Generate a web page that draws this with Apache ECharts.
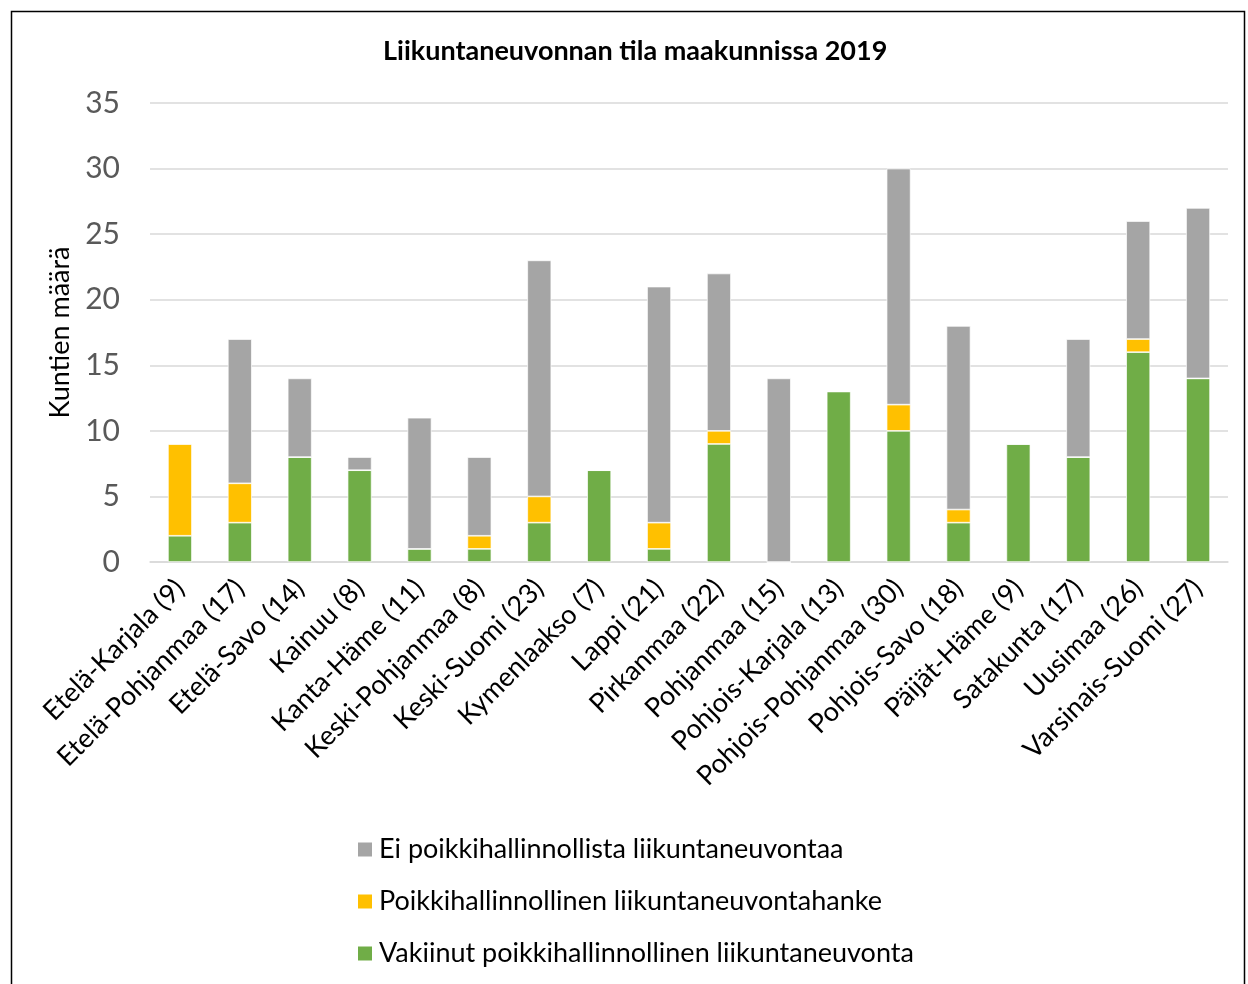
<!DOCTYPE html>
<html>
<head>
<meta charset="utf-8">
<script src="https://cdn.jsdelivr.net/npm/echarts@6/dist/echarts.min.js"></script>
<style>
  html, body { margin: 0; padding: 0; background: #fff; }
  #chart { width: 1248px; height: 984px; }
</style>
</head>
<body>
<div id="chart"></div>
<script>
const FONT = 'Lato, "Open Sans", sans-serif';
const GREY = '#a5a5a5';
const YELLOW = '#ffc000';
const GREEN = '#70ad47';

const regions = [
  'Etelä-Karjala (9)', 'Etelä-Pohjanmaa (17)', 'Etelä-Savo (14)', 'Kainuu (8)',
  'Kanta-Häme (11)', 'Keski-Pohjanmaa (8)', 'Keski-Suomi (23)', 'Kymenlaakso (7)',
  'Lappi (21)', 'Pirkanmaa (22)', 'Pohjanmaa (15)', 'Pohjois-Karjala (13)',
  'Pohjois-Pohjanmaa (30)', 'Pohjois-Savo (18)', 'Päijät-Häme (9)', 'Satakunta (17)',
  'Uusimaa (26)', 'Varsinais-Suomi (27)'
];

// vakiintunut / hanke / ei
const established = [2, 3, 8, 7, 1, 1, 3, 7, 1, 9, 0, 13, 10, 3, 9, 8, 16, 14];
const project     = [7, 3, 0, 0, 0, 1, 2, 0, 2, 1, 0, 0, 2, 1, 0, 0, 1, 0];
const none        = [0, 11, 6, 1, 10, 6, 18, 0, 18, 12, 14, 0, 18, 14, 0, 9, 9, 13];

const yTicks = [0, 5, 10, 15, 20, 25, 30, 35];

const barStyle = (color) => ({color: color, borderColor: '#ffffff', borderWidth: 0.7});

const chart = echarts.init(document.getElementById('chart'));

chart.setOption({
  animation: false,
  backgroundColor: '#fff',
  textStyle: {fontFamily: FONT},
  title: {
    text: 'Liikuntaneuvonnan tila maakunnissa 2019',
    left: 378,
    top: 33,
    textStyle: {fontFamily: FONT, fontSize: 27, fontWeight: 'bold', color: '#000'}
  },
  graphic: [{
    type: 'rect',
    shape: {x: 11.5, y: 11.5, width: 1233, height: 990},
    style: {fill: 'none', stroke: '#000', lineWidth: 1.5},
    silent: true
  }],
  legend: {
    orient: 'vertical',
    left: 356,
    top: 836,
    padding: 0,
    itemWidth: 16,
    itemHeight: 16,
    itemGap: 25,
    icon: 'rect',
    data: ['Ei poikkihallinnollista liikuntaneuvontaa', 'Poikkihallinnollinen liikuntaneuvontahanke', 'Vakiinut poikkihallinnollinen liikuntaneuvonta'],
    textStyle: {fontFamily: FONT, fontSize: 27, color: '#000', padding: [0, 0, 0, 1]}
  },
  grid: {left: 150, right: 20, top: 103, bottom: 422},
  xAxis: {
    type: 'category',
    data: regions,
    axisLine: {lineStyle: {color: '#d9d9d9', width: 1.5}},
    axisTick: {show: false},
    axisLabel: {
      rotate: 45,
      interval: 0,
      margin: 22,
      fontFamily: FONT,
      fontSize: 27,
      color: '#000'
    }
  },
  yAxis: {
    type: 'value',
    min: yTicks[0],
    max: yTicks[yTicks.length - 1],
    interval: 5,
    name: 'Kuntien määrä',
    nameLocation: 'middle',
    nameGap: 76,
    nameTextStyle: {fontFamily: FONT, fontSize: 27, color: '#000'},
    axisLine: {show: false},
    axisTick: {show: false},
    axisLabel: {fontFamily: FONT, fontSize: 30, color: '#595959', margin: 30},
    splitLine: {lineStyle: {color: '#d9d9d9', width: 1.5}}
  },
  series: [
    {
      name: 'Vakiinut poikkihallinnollinen liikuntaneuvonta',
      type: 'bar',
      stack: 'total',
      barWidth: 24,
      itemStyle: barStyle(GREEN),
      data: established
    },
    {
      name: 'Poikkihallinnollinen liikuntaneuvontahanke',
      type: 'bar',
      stack: 'total',
      barWidth: 24,
      itemStyle: barStyle(YELLOW),
      data: project
    },
    {
      name: 'Ei poikkihallinnollista liikuntaneuvontaa',
      type: 'bar',
      stack: 'total',
      barWidth: 24,
      itemStyle: barStyle(GREY),
      data: none
    }
  ]
});
</script>
</body>
</html>
